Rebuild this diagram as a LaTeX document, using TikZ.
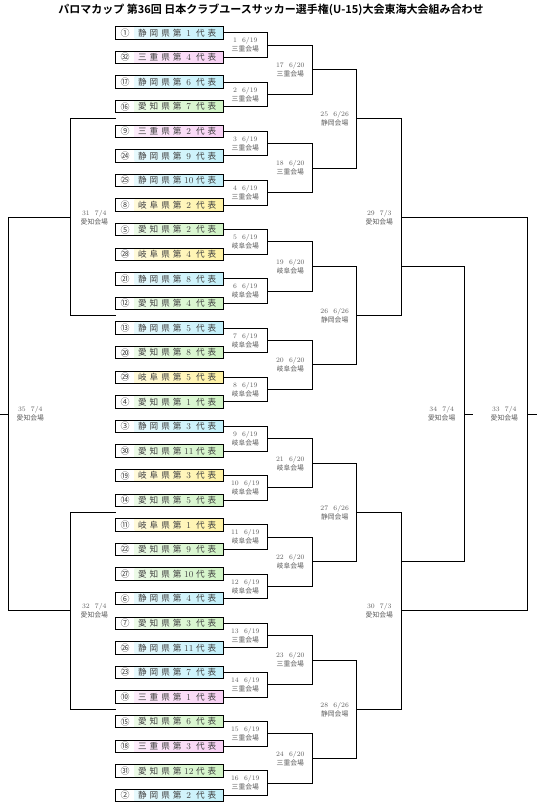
\documentclass[tikz,border=0pt]{standalone}
\usepackage{fontspec}
\newfontfamily\cjk{Noto Sans CJK JP}
\newfontfamily\cjkbold{Noto Sans CJK JP Bold}
\usetikzlibrary{positioning,calc}

\definecolor{shizuoka}{HTML}{C2F0FA}
\definecolor{mie}{HTML}{F8D0F4}
\definecolor{aichi}{HTML}{D0F4C4}
\definecolor{gifu}{HTML}{FFF2A2}
\definecolor{inkgrey}{HTML}{404040}

\newcommand\slot[1]{\makebox[11.6pt]{#1}}
\newcommand\prefslots[3]{\slot{#1}\slot{#2}\slot{#3}}
\newcommand\teamname[2]{{\cjk\expandafter\prefslots#1\slot{第}}\slot{\fontsize{9}{9}\selectfont#2}{\cjk\slot{代}\slot{表}}\kern4pt}

\tikzset{
	seedbox/.style={fill=white, minimum width=18.6pt, minimum height=12pt, inner sep=0pt,
		font=\cjk\fontsize{9}{9}\selectfont, text=inkgrey},
	namebox/.style={shade, left color=#1!40, right color=#1, minimum width=89pt,
		minimum height=12pt, inner sep=0pt, font=\fontsize{8.6}{8.6}\selectfont, text=inkgrey},
	frame/.style={line width=1pt},
	tie/.style={line width=0.85pt},
	matchlbl/.style={align=center, font=\fontsize{6.8}{9}\selectfont, text=inkgrey!85},
}

\begin{document}
\begin{tikzpicture}[x=1pt, y=-1pt]
	\useasboundingbox (0,0) rectangle (542,809);
	\node[font=\cjkbold\fontsize{11}{11}\selectfont] (title) at (271,9.5)
		{パロマカップ 第36回 日本クラブユースサッカー選手権(U-15)大会東海大会組み合わせ};

	% teams
	\foreach \seed/\pref/\rank/\hue [count=\i] in {①/静岡県/1/shizuoka, ㉜/三重県/4/mie,
		⑰/静岡県/6/shizuoka, ⑯/愛知県/7/aichi, ⑨/三重県/2/mie, ㉔/静岡県/9/shizuoka,
		㉕/静岡県/10/shizuoka, ⑧/岐阜県/2/gifu, ⑤/愛知県/2/aichi, ㉘/岐阜県/4/gifu,
		㉑/静岡県/8/shizuoka, ⑫/愛知県/4/aichi, ⑬/静岡県/5/shizuoka, ⑳/愛知県/8/aichi,
		㉙/岐阜県/5/gifu, ④/愛知県/1/aichi, ③/静岡県/3/shizuoka, ㉚/愛知県/11/aichi,
		⑲/岐阜県/3/gifu, ⑭/愛知県/5/aichi, ⑪/岐阜県/1/gifu, ㉒/愛知県/9/aichi,
		㉗/愛知県/10/aichi, ⑥/静岡県/4/shizuoka, ⑦/愛知県/3/aichi, ㉖/静岡県/11/shizuoka,
		㉓/静岡県/7/shizuoka, ⑩/三重県/1/mie, ⑮/愛知県/6/aichi, ⑱/三重県/3/mie,
		㉛/愛知県/12/aichi, ②/静岡県/2/shizuoka}
	{
		\node[seedbox] (n\i) at (125,{32.8+24.6*(\i-1)}) {\seed};
		\node[namebox=\hue, right=0pt of n\i] (b\i) {\teamname{\pref}{\rank}};
		\draw[frame] (n\i.north west) rectangle (b\i.south east);
	}

	% 6/19
	\foreach \venue [count=\k] in {三重,三重,三重,三重,岐阜,岐阜,岐阜,岐阜,
		岐阜,岐阜,岐阜,岐阜,三重,三重,三重,三重}
	{
		\pgfmathtruncatemacro\a{2*\k-1}
		\pgfmathtruncatemacro\b{2*\k}
		\coordinate (m\k) at (267.3,{32.8+24.6*(2*\k-1.5)});
		\draw[tie] (b\a.east) -| (m\k) |- (b\b.east);
		\node[matchlbl] at ([xshift=-22pt]m\k) {\k\ \ 6/19\\{\cjk\venue 会場}};
	}
	% 6/20
	\foreach \venue [count=\j] in {三重,三重,岐阜,岐阜,岐阜,岐阜,三重,三重}
	{
		\pgfmathtruncatemacro\k{16+\j}
		\pgfmathtruncatemacro\a{2*\j-1}
		\pgfmathtruncatemacro\b{2*\j}
		\coordinate (m\k) at (312.3,{32.8+24.6*(4*\j-2.5)});
		\draw[tie] (m\a) -| (m\k) |- (m\b);
		\node[matchlbl] at ([xshift=-22pt]m\k) {\k\ \ 6/20\\{\cjk\venue 会場}};
	}
	% 6/26
	\foreach \j in {1,...,4}
	{
		\pgfmathtruncatemacro\k{24+\j}
		\pgfmathtruncatemacro\a{15+2*\j}
		\pgfmathtruncatemacro\b{16+2*\j}
		\coordinate (m\k) at (356.7,{32.8+24.6*(8*\j-4.5)});
		\draw[tie] (m\a) -| (m\k) |- (m\b);
		\node[matchlbl] at ([xshift=-22pt]m\k) {\k\ \ 6/26\\{\cjk 静岡会場}};
	}
	% 7/3
	\foreach \j in {1,2}
	{
		\pgfmathtruncatemacro\k{28+\j}
		\pgfmathtruncatemacro\a{23+2*\j}
		\pgfmathtruncatemacro\b{24+2*\j}
		\coordinate (m\k) at (401.3,{32.8+24.6*(16*\j-8.5)});
		\draw[tie] (m\a) -| (m\k) |- (m\b);
		\node[matchlbl] at ([xshift=-22pt]m\k) {\k\ \ 7/3\\{\cjk 愛知会場}};
	}

	% 7/4, right side
	\coordinate (q29) at ($(m29)!0.5!(m29 |- m26)$);
	\coordinate (q30) at ($(m30)!0.5!(m30 |- m27)$);
	\coordinate (m34) at (464.7,414.1);
	\coordinate (o34) at (472.7,414.1);
	\coordinate (m33) at (527.3,414.1);
	\coordinate (o33) at (536.7,414.1);
	\draw[tie] (q29) -| (m34) |- (q30);
	\draw[tie] (m34) -- (o34);
	\draw[tie] (m29) -| (m33) |- (m30);
	\draw[tie] (m33) -- (o33);
	\node[matchlbl] at ([xshift=-23pt]m34) {34\ \ 7/4\\{\cjk 愛知会場}};
	\node[matchlbl] at ([xshift=-23pt]m33) {33\ \ 7/4\\{\cjk 愛知会場}};

	% 7/4, left side
	\coordinate (g4) at ($(n4.south west)!0.5!(n5.north west)$);
	\coordinate (g12) at ($(n12.south west)!0.5!(n13.north west)$);
	\coordinate (g20) at ($(n20.south west)!0.5!(n21.north west)$);
	\coordinate (g28) at ($(n28.south west)!0.5!(n29.north west)$);
	\coordinate (m31) at (70.3,217.3);
	\coordinate (m32) at (70.3,610.9);
	\coordinate (m35) at (8.3,414.1);
	\coordinate (o35) at (0,414.1);
	\draw[tie] (g4) -| (m31) |- (g12);
	\draw[tie] (g20) -| (m32) |- (g28);
	\draw[tie] (m31) -| (m35) |- (m32);
	\draw[tie] (m35) -- (o35);
	\node[matchlbl] at ([xshift=24pt]m31) {31\ \ 7/4\\{\cjk 愛知会場}};
	\node[matchlbl] at ([xshift=24pt]m32) {32\ \ 7/4\\{\cjk 愛知会場}};
	\node[matchlbl] at ([xshift=22pt]m35) {35\ \ 7/4\\{\cjk 愛知会場}};
\end{tikzpicture}
\end{document}
